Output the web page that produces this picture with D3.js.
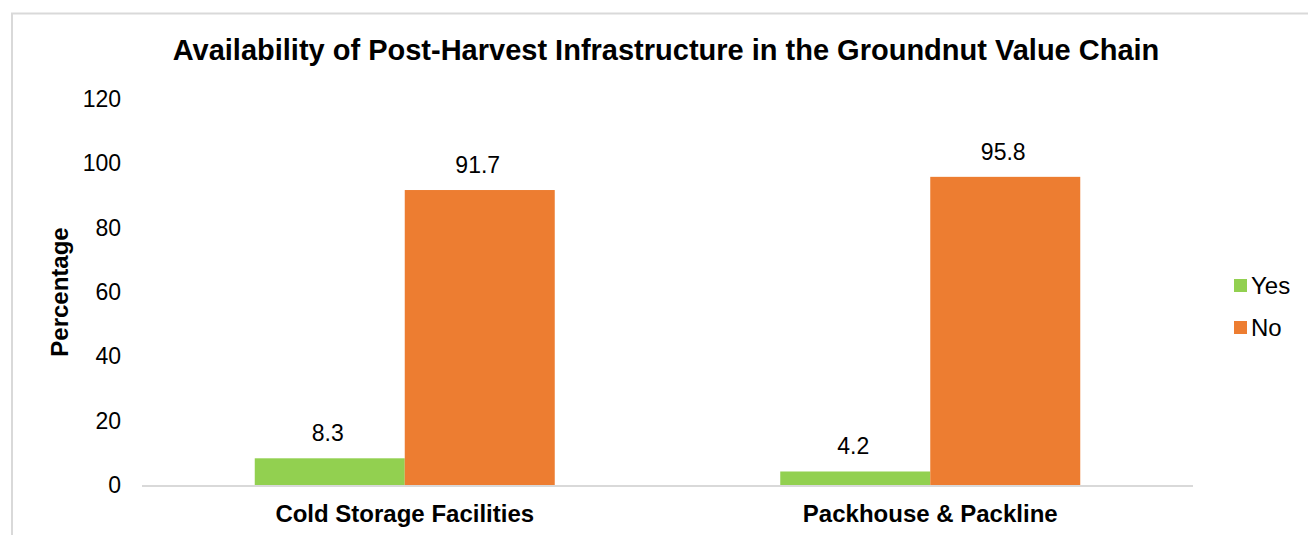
<!DOCTYPE html>
<html>
<head>
<meta charset="utf-8">
<script src="https://cdn.jsdelivr.net/npm/d3@7"></script>
<style>
  body { margin: 0; background: #fff; }
  text { font-family: "Liberation Sans", Arial, sans-serif; fill: #000; }
</style>
</head>
<body>
<div id="chart"></div>
<script>
var categories = ['Cold Storage Facilities', 'Packhouse & Packline']
var series = ['Yes', 'No']
var yesValues = [8.3, 4.2]
var noValues = [91.7, 95.8]
var yTicks = [0, 20, 40, 60, 80, 100, 120]
var colors = ['#92D050', '#ED7D31']

var width = 1308, height = 535
var svg = d3.select('#chart').append('svg')
  .attr('width', width).attr('height', height)

// outer chart border
svg.append('rect')
  .attr('x', 12).attr('y', 13.5)
  .attr('width', width + 10).attr('height', height + 10)
  .attr('fill', '#fff').attr('stroke', '#d9d9d9').attr('stroke-width', 2)

var data = categories.map((c, i) => ({cat: c, values: [yesValues[i], noValues[i]]}))

var x0 = d3.scaleBand().domain(categories).range([142, 1193])
var x1 = d3.scaleBand().domain(series).range([0, 300])
var y = d3.scaleLinear().domain([0, 120]).range([485, 99])

svg.append('text')
  .attr('x', 666).attr('y', 60)
  .attr('text-anchor', 'middle')
  .style('font-size', '29px').style('font-weight', 'bold')
  .text('Availability of Post-Harvest Infrastructure in the Groundnut Value Chain')

// y tick labels
svg.selectAll('.ytick').data(yTicks).enter().append('text')
  .attr('class', 'ytick')
  .attr('x', 121).attr('y', d => y(d))
  .attr('dy', '0.35em')
  .attr('text-anchor', 'end')
  .style('font-size', '23px')
  .text(d => d)

svg.append('text')
  .attr('transform', 'translate(68,292) rotate(-90)')
  .attr('text-anchor', 'middle')
  .style('font-size', '24px').style('font-weight', 'bold')
  .text('Percentage')

var groups = svg.selectAll('.grp').data(data).enter().append('g')
  .attr('transform', d => 'translate(' + (x0(d.cat) + x0.bandwidth() / 2 - 150) + ',0)')

groups.selectAll('rect').data(d => d.values.map((v, i) => ({s: series[i], v: v, i: i})))
  .enter().append('rect')
  .attr('x', d => x1(d.s))
  .attr('y', d => y(d.v))
  .attr('width', x1.bandwidth())
  .attr('height', d => y(0) - y(d.v))
  .attr('fill', d => colors[d.i])

groups.selectAll('.lbl').data(d => d.values.map((v, i) => ({s: series[i], v: v})))
  .enter().append('text')
  .attr('x', d => x1(d.s) + x1.bandwidth() / 2 - 2)
  .attr('y', d => y(d.v) - 17)
  .attr('text-anchor', 'middle')
  .style('font-size', '23px')
  .text(d => d.v)

// baseline
svg.append('line')
  .attr('x1', 142).attr('x2', 1193)
  .attr('y1', y(0) + 1).attr('y2', y(0) + 1)
  .attr('stroke', '#d9d9d9').attr('stroke-width', 2)

// category labels
svg.selectAll('.cat').data(categories).enter().append('text')
  .attr('x', d => x0(d) + x0.bandwidth() / 2)
  .attr('y', 522)
  .attr('text-anchor', 'middle')
  .style('font-size', '24px').style('font-weight', 'bold')
  .text(d => d)

// legend
var leg = svg.selectAll('.leg').data(series).enter().append('g')
  .attr('transform', (d, i) => 'translate(1234,' + (279 + i * 42) + ')')
leg.append('rect').attr('width', 13).attr('height', 13).attr('fill', (d, i) => colors[i])
leg.append('text').attr('x', 17).attr('y', 6.5).attr('dy', '0.35em')
  .style('font-size', '24px').text(d => d)
</script>
</body>
</html>
